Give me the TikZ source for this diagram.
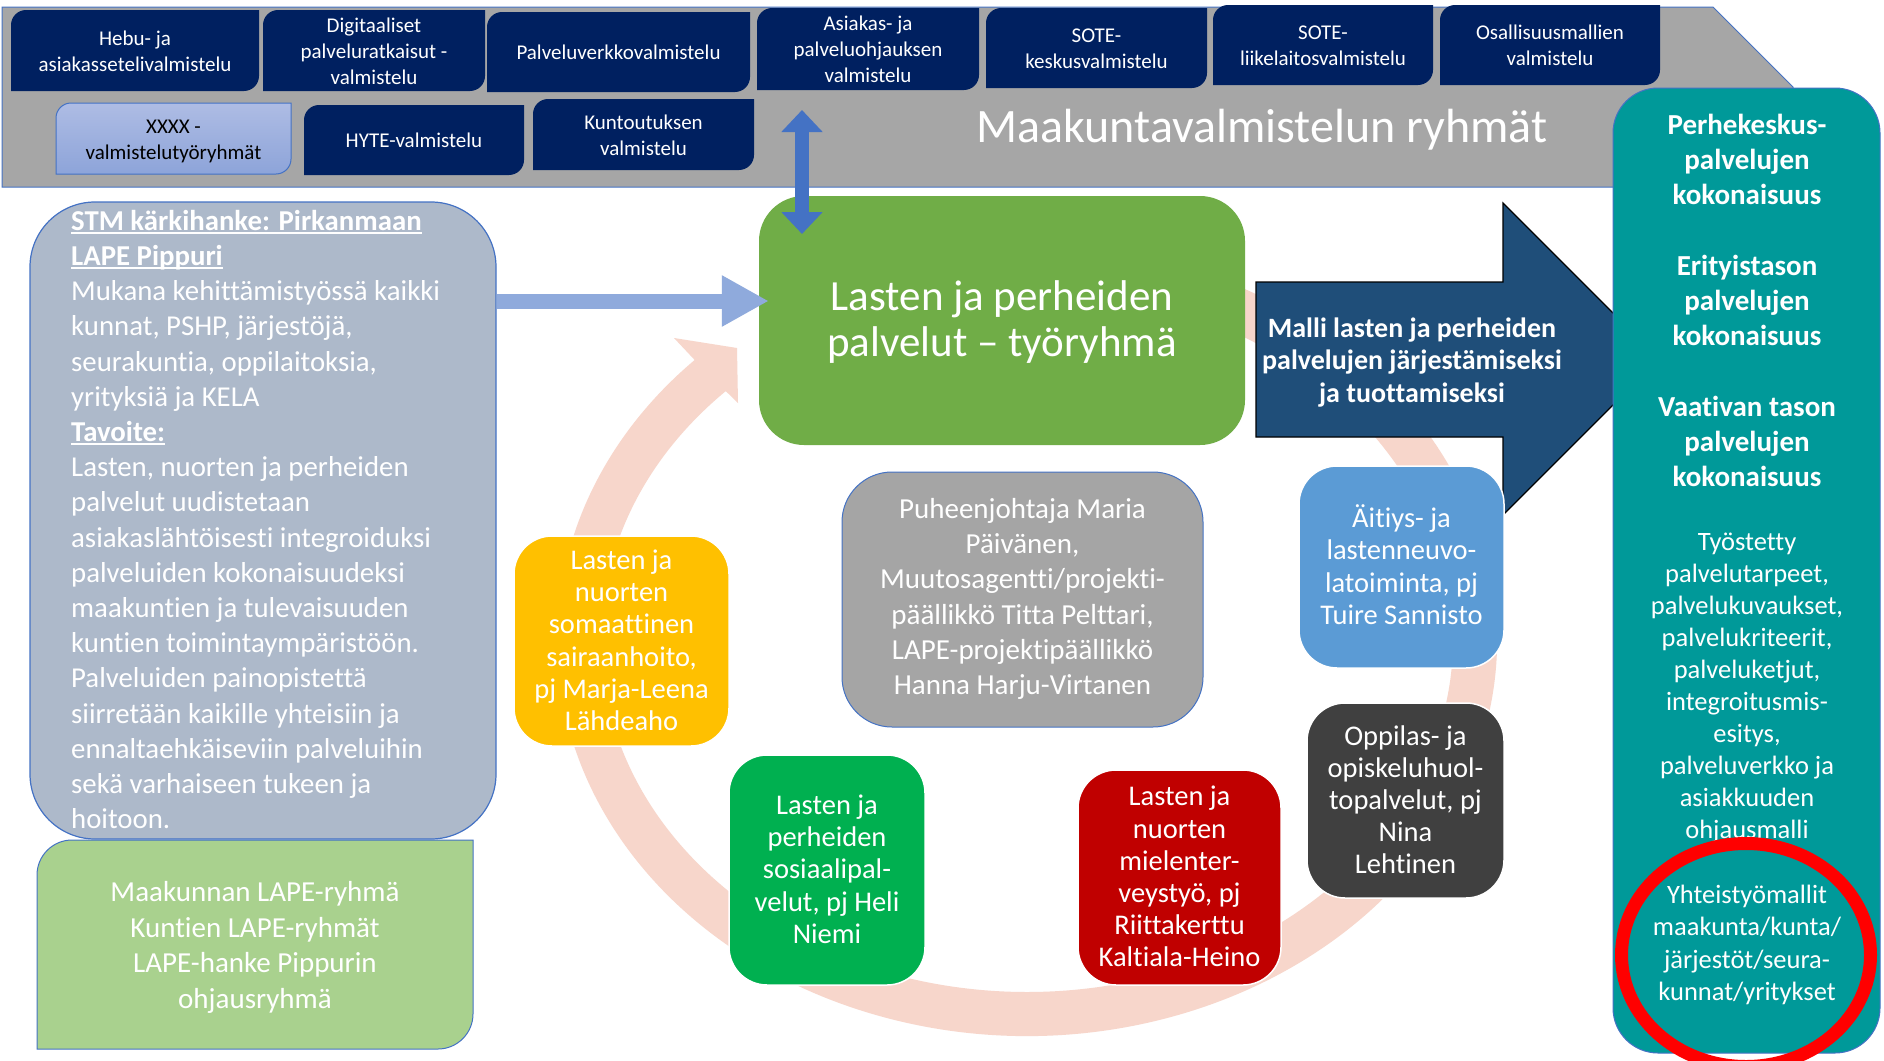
\documentclass[tikz,border=0pt]{standalone}
\usepackage{fontspec}
\setmainfont{Carlito}[Ligatures=NoCommon]
\usetikzlibrary{calc,arrows.meta}
\definecolor{navy}{HTML}{002060}
\definecolor{bannergray}{HTML}{A6A6A6}
\definecolor{bb}{HTML}{4472C4}
\definecolor{leftgray}{HTML}{ADB9CA}
\definecolor{lapegreen}{HTML}{A9D18E}
\definecolor{maingreen}{HTML}{70AD47}
\definecolor{darkarrow}{HTML}{1F4E79}
\definecolor{tealc}{HTML}{009999}
\definecolor{midgray}{HTML}{A5A5A5}
\definecolor{yellowc}{HTML}{FFC000}
\definecolor{lightbluec}{HTML}{5B9BD5}
\definecolor{dkgray}{HTML}{404040}
\definecolor{brightgreen}{HTML}{00B050}
\definecolor{redbox}{HTML}{C00000}
\definecolor{arcpink}{HTML}{F7D6CB}
\definecolor{harrowc}{HTML}{8FAADC}
\definecolor{xxtop}{HTML}{AEBCE4}
\definecolor{xxbot}{HTML}{8DA4D9}
\definecolor{ringred}{HTML}{FF0000}
\newcommand\myul[1]{\setbox0=\hbox{#1}\rlap{\rule[-4pt]{\wd0}{2.2pt}}\box0}
% tall strut: pushes centred text down by half of #1
\newcommand\tstr[1]{\rule{0pt}{\dimexpr0.7\baselineskip+#1pt\relax}}
% round-diagonal-corner box: name, x1, y1, x2, y2, radius, path style, node style, text
\newcommand\dgbox[9]{%
  \path[#7] (#2,#5) -- (#2,#3+#6) .. controls (#2,#3+0.45*#6) and (#2+0.45*#6,#3) .. (#2+#6,#3)
     -- (#4,#3) -- (#4,#5-#6) .. controls (#4,#5-0.45*#6) and (#4-0.45*#6,#5) .. (#4-#6,#5) -- cycle;
  \node[#8] (#1) at ({(#2+#4)/2},{(#3+#5)/2}) {#9};
}
\tikzset{
  topbox/.style={text=white, align=center, inner sep=0pt, font=\fontsize{21}{26}\selectfont},
  cbox/.style={rounded corners=38pt, draw=white, line width=1.5pt, text=white, align=center,
     inner sep=0pt, font=\fontsize{28.5}{32.2}\selectfont},
  tealbold/.style={text=white, align=center, inner sep=0pt, font=\bfseries\fontsize{29}{35.2}\selectfont},
  tealreg/.style={text=white, align=center, inner sep=0pt, font=\fontsize{26.5}{32}\selectfont},
}
\begin{document}
\begin{tikzpicture}[x=1pt,y=-1pt]
\useasboundingbox (0,0) rectangle (1884,1060);
\fill[white] (0,0) rectangle (1884,1060);

% banner
\path[fill=bannergray, draw=bb, line width=1pt] (2,7) -- (1713,7) -- (1793,87) -- (1793,187) -- (2,187) -- cycle;
\node[text=white, inner sep=0pt, font=\fontsize{48}{54}\selectfont] (title) at (1262,130) {Maakuntavalmistelun ryhmät};

% top boxes
\dgbox{hebu}{11}{10}{259}{91}{15}{fill=navy}{topbox}{\tstr{5}Hebu- ja\\asiakassetelivalmistelu\strut}
\dgbox{digi}{263}{10}{485}{91}{15}{fill=navy}{topbox}{\tstr{5}Digitaaliset\\palveluratkaisut -\\valmistelu\strut}
\dgbox{pverk}{487}{12}{750}{92}{15}{fill=navy}{topbox}{\tstr{5}Palveluverkkovalmistelu\strut}
\dgbox{asiak}{757}{8}{979}{90}{15}{fill=navy}{topbox}{\tstr{5}Asiakas- ja\\palveluohjauksen\\valmistelu\strut}
\dgbox{sotek}{986}{8}{1207}{88}{15}{fill=navy}{topbox}{\tstr{5}SOTE-\\keskusvalmistelu\strut}
\dgbox{sotel}{1213}{5}{1433}{85}{15}{fill=navy}{topbox}{\tstr{5}SOTE-\\liikelaitosvalmistelu\strut}
\dgbox{osal}{1440}{5}{1660}{85}{15}{fill=navy}{topbox}{\tstr{5}Osallisuusmallien\\valmistelu\strut}
\dgbox{xxxx}{56}{103}{291}{174}{15}{top color=xxtop, bottom color=xxbot, draw=bb, line width=1pt}{topbox, text=black}{\tstr{5}XXXX -\\valmistelutyöryhmät\strut}
\dgbox{hyte}{304}{105}{524}{175}{15}{fill=navy}{topbox}{\tstr{5}HYTE-valmistelu\strut}
\dgbox{kunt}{533}{99}{754}{170}{15}{fill=navy}{topbox}{\tstr{5}Kuntoutuksen\\valmistelu\strut}

% circular arrow
\fill[arcpink] ($(1027,640)+(-70:470 and 396)$) arc[start angle=-70, end angle=225, x radius=470, y radius=396]
   -- (674,338) -- (737,348) -- (738,403)
   -- ($(1027,640)+(225:426 and 352)$) arc[start angle=225, end angle=-70, x radius=426, y radius=352] -- cycle;

% left box
\node[draw=bb, fill=leftgray, rounded corners=65pt, line width=1.2pt, minimum width=466pt, minimum height=637pt, inner sep=0pt] (leftbox) at (263,520.5) {};
\node[anchor=north west, inner sep=0pt, align=left, text=white, font=\fontsize{28.8}{35.2}\selectfont] (goal) at (71,205.4) {%
\strut{\bfseries\myul{STM kärkihanke: Pirkanmaan}}\\
{\bfseries\myul{LAPE Pippuri}}\\
Mukana kehittämistyössä kaikki\\
kunnat, PSHP, järjestöjä,\\
seurakuntia, oppilaitoksia,\\
yrityksiä ja KELA\\
{\bfseries\myul{Tavoite:}}\\
Lasten, nuorten ja perheiden\\
palvelut uudistetaan\\
asiakaslähtöisesti integroiduksi\\
palveluiden kokonaisuudeksi\\
maakuntien ja tulevaisuuden\\
kuntien toimintaympäristöön.\\
Palveluiden painopistettä\\
siirretään kaikille yhteisiin ja\\
ennaltaehkäiseviin palveluihin\\
sekä varhaiseen tukeen ja\\
hoitoon.\strut};

% LAPE groups box
\dgbox{lape}{37}{840}{473}{1049}{35}{fill=lapegreen, draw=bb, line width=1pt}{text=white, align=center, inner sep=0pt, font=\fontsize{29}{35.5}\selectfont}{\tstr{7}Maakunnan LAPE-ryhmä\\Kuntien LAPE-ryhmät\\LAPE-hanke Pippurin\\ohjausryhmä\strut}

% main working group
\node[fill=maingreen, rounded corners=45pt, minimum width=486pt, minimum height=249pt, inner sep=0pt, text=white, align=center, font=\fontsize{43}{46}\selectfont] (main) at (1002,320.5) {\tstr{8}Lasten ja perheiden\\palvelut – työryhmä\strut};

% arrow from left box to main
\coordinate (ha) at (0,301);
\draw[harrowc, line width=15pt, -{Triangle[width=48pt,length=47pt]}] (leftbox.east |- ha) -- ($(main.west |- ha)+(10,0)$);

% double arrow banner <-> main
\coordinate (dtop) at (802,110);
\coordinate (dbot) at (802,234);
\draw[bb, line width=14pt, {Triangle[width=40pt,length=22pt]}-{Triangle[width=40pt,length=22pt]}] (dtop) -- (dbot);

% dark block arrow
\path[fill=darkarrow, draw=black, line width=1.2pt] (1256,282) -- (1503,282) -- (1503,203) -- (1659,359) -- (1503,515) -- (1503,437) -- (1256,437) -- cycle;
\node[text=white, align=center, inner sep=0pt, font=\bfseries\fontsize{28}{32.4}\selectfont] (malli) at (1412,363.5) {\strut Malli lasten ja perheiden\\palvelujen järjestämiseksi\\ja tuottamiseksi\strut};

% chair box
\node[fill=midgray, draw=bb, line width=1pt, rounded corners=50pt, minimum width=361pt, minimum height=255pt, inner sep=0pt, text=white, align=center, font=\fontsize{29}{35.3}\selectfont] (chair) at (1022.5,599.5) {\strut Puheenjohtaja Maria\\Päivänen,\\Muutosagentti/projekti-\\päällikkö Titta Pelttari,\\LAPE-projektipäällikkö\\Hanna Harju-Virtanen\strut};

% sub-groups
\node[cbox, fill=yellowc, minimum width=215pt, minimum height=210pt] (soma) at (621.5,641) {\tstr{5}Lasten ja\\nuorten\\somaattinen\\sairaanhoito,\\pj Marja-Leena\\Lähdeaho\strut};
\node[cbox, fill=lightbluec, minimum width=205pt, minimum height=202pt] (neuvola) at (1401.5,567) {\tstr{5}Äitiys- ja\\lastenneuvo-\\latoiminta, pj\\Tuire Sannisto\strut};
\node[cbox, fill=dkgray, minimum width=197pt, minimum height=195pt] (oppilas) at (1405.5,800.5) {\tstr{5}Oppilas- ja\\opiskeluhuol-\\topalvelut, pj\\Nina\\Lehtinen\strut};
\node[cbox, fill=brightgreen, minimum width=196pt, minimum height=230pt] (sosiaali) at (827,870) {\tstr{5}Lasten ja\\perheiden\\sosiaalipal-\\velut, pj Heli\\Niemi\strut};
\node[cbox, fill=redbox, minimum width=203pt, minimum height=215pt] (mieli) at (1179.5,877.5) {\tstr{5}Lasten ja\\nuorten\\mielenter-\\veystyö, pj\\Riittakerttu\\Kaltiala-Heino\strut};

% teal column
\node[fill=tealc, draw=bb, line width=1pt, rounded corners=45pt, minimum width=267pt, minimum height=965pt, inner sep=0pt] (teal) at (1746.5,570.5) {};
\node[tealbold] (perhe) at (1747,162.5) {\strut Perhekeskus-\\palvelujen\\kokonaisuus\strut};
\node[tealbold] (erit) at (1747,303.5) {\strut Erityistason\\palvelujen\\kokonaisuus\strut};
\node[tealbold] (vaat) at (1747,444.5) {\strut Vaativan tason\\palvelujen\\kokonaisuus\strut};
\node[tealreg] (tyost) at (1747,688.5) {\strut Työstetty\\palvelutarpeet,\\palvelukuvaukset,\\palvelukriteerit,\\palveluketjut,\\integroitusmis-\\esitys,\\palveluverkko ja\\asiakkuuden\\ohjausmalli\strut};
\node[tealreg, font=\fontsize{26.5}{32.4}\selectfont] (yht) at (1747,945.5) {\strut Yhteistyömallit\\maakunta/kunta/\\järjestöt/seura-\\kunnat/yritykset\strut};

% red ring
\draw[ringred, line width=13pt] (1746,955) ellipse[x radius=124.5, y radius=111.5];
\end{tikzpicture}
\end{document}
